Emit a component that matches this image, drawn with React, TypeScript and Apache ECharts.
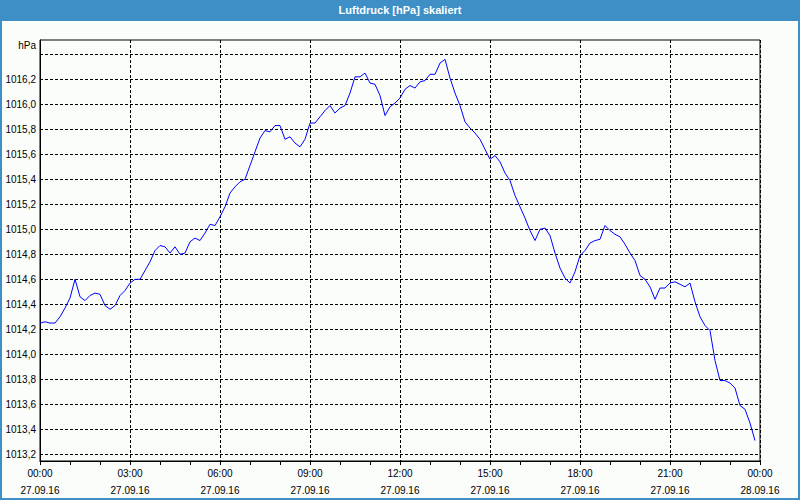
import React, { useEffect, useRef } from "react";
import * as echarts from "echarts";

// Series start: 27.09.2016 00:00, one sample every 10 minutes
const START_DATE = { year: 2016, month: 9, day: 27 };
const SAMPLE_STEP_MIN = 10;

const pressure: number[] = [
  1014.25, 1014.26, 1014.25, 1014.25, 1014.3, 1014.37, 1014.45, 1014.6, 1014.46, 1014.43,
  1014.47, 1014.49, 1014.48, 1014.39, 1014.36, 1014.39, 1014.47, 1014.51, 1014.57, 1014.6,
  1014.6, 1014.67, 1014.74, 1014.83, 1014.87, 1014.86, 1014.81, 1014.86, 1014.8, 1014.81,
  1014.9, 1014.93, 1014.91, 1014.97, 1015.04, 1015.03, 1015.1, 1015.18, 1015.29, 1015.34,
  1015.38, 1015.4, 1015.51, 1015.62, 1015.73, 1015.79, 1015.78, 1015.83, 1015.83, 1015.72,
  1015.74, 1015.69, 1015.66, 1015.72, 1015.85, 1015.85, 1015.9, 1015.95, 1015.99, 1015.93,
  1015.97, 1015.99, 1016.09, 1016.22, 1016.22, 1016.25, 1016.17, 1016.16, 1016.07, 1015.91,
  1015.98, 1016.01, 1016.05, 1016.12, 1016.15, 1016.13, 1016.18, 1016.19, 1016.24, 1016.24,
  1016.33, 1016.36, 1016.21, 1016.09, 1015.99, 1015.86, 1015.81, 1015.77, 1015.72, 1015.64,
  1015.56, 1015.59, 1015.54, 1015.45, 1015.39, 1015.27, 1015.18, 1015.09, 1014.99, 1014.91,
  1015.0, 1015.01, 1014.95, 1014.81, 1014.69, 1014.61, 1014.57, 1014.66, 1014.79, 1014.83,
  1014.89, 1014.91, 1014.92, 1015.03, 1014.99, 1014.96, 1014.94, 1014.88, 1014.81, 1014.75,
  1014.63, 1014.6, 1014.54, 1014.44, 1014.53, 1014.53, 1014.57, 1014.58, 1014.56, 1014.54,
  1014.57, 1014.42, 1014.3, 1014.23, 1014.19, 1013.95, 1013.79, 1013.79, 1013.77, 1013.73,
  1013.59, 1013.56, 1013.45, 1013.31,
];

const X_MIN = 0; // minutes since start
const X_MAX = 1440;
const X_INTERVAL = 180;
const Y_MIN = 1013.2;
const Y_MAX = 1016.4;
const Y_INTERVAL = 0.2;
const Y_HIDDEN_LABELS = [1016.4];

const TITLE = "Luftdruck [hPa] skaliert";
const UNIT = "hPa";

const BLUE = "#3D8FC6";
const BG = "#FAFDFA";
const FONT = "Liberation Sans";

function pad(n: number) {
  return n < 10 ? "0" + n : "" + n;
}

function formatX(m: number) {
  const d = new Date(START_DATE.year, START_DATE.month - 1, START_DATE.day, 0, m);
  return (
    pad(d.getHours()) + ":" + pad(d.getMinutes()) + "\n" +
    pad(d.getDate()) + "." + pad(d.getMonth() + 1) + "." + pad(d.getFullYear() % 100)
  );
}

export default function App() {
  const ref = useRef<HTMLDivElement>(null);

  useEffect(() => {
    if (!ref.current) return;
    const chart = echarts.init(ref.current, null, { renderer: "svg" });
    const data = pressure.map((v, i) => [i * SAMPLE_STEP_MIN, v]);
    const dashed = { type: [3, 2] as any, color: "#000", width: 1 };

    chart.setOption({
      animation: false,
      backgroundColor: BG,
      textStyle: { fontFamily: FONT },
      title: {
        text: TITLE,
        left: "center",
        top: 0,
        padding: [4, 0, 4, 10],
        textStyle: { color: "#fff", fontSize: 11, fontWeight: "bold", fontFamily: FONT },
      },
      graphic: [
        { type: "rect", left: 0, top: 0, shape: { x: 0, y: 0, width: 800, height: 21 }, style: { fill: BLUE }, z: 0 },
        { type: "rect", shape: { x: 1, y: 1, width: 798, height: 498 }, style: { fill: "none", stroke: BLUE, lineWidth: 2 }, z: 0 },
      ],
      grid: [
        { left: 40, right: 40, top: 40, bottom: 39, show: true, borderColor: "#000", borderWidth: 1, backgroundColor: "transparent" },
        { left: 40, right: 40, top: 54.3, bottom: 45.7 },
      ],
      xAxis: [
        {
          gridIndex: 0,
          type: "value",
          min: X_MIN,
          max: X_MAX,
          interval: X_INTERVAL,
          axisLine: { show: true, lineStyle: { color: "#000", width: 1 } },
          axisTick: { show: true, length: 4, lineStyle: { color: "#000" } },
          minorTick: { show: true, splitNumber: 3, length: 4, lineStyle: { color: "#000" } },
          splitLine: { show: true, lineStyle: dashed },
          axisLabel: {
            formatter: (v: number) => formatX(v),
            color: "#000",
            fontSize: 10,
            lineHeight: 17,
            margin: 4,
            fontFamily: FONT,
          },
        },
        { gridIndex: 1, type: "value", min: X_MIN, max: X_MAX, show: false },
      ],
      yAxis: [
        {
          gridIndex: 0,
          type: "value",
          min: 0,
          max: 1,
          name: UNIT,
          nameLocation: "end",
          nameGap: -5,
          nameTextStyle: { color: "#000", fontSize: 10, align: "right", verticalAlign: "middle", padding: [0, 4, 0, 0], fontFamily: FONT },
          axisLine: { show: true, lineStyle: { color: "#000" } },
          axisTick: { show: false },
          axisLabel: { show: false },
          splitLine: { show: false },
        },
        {
          gridIndex: 1,
          type: "value",
          min: Y_MIN,
          max: Y_MAX,
          interval: Y_INTERVAL,
          axisLine: { show: false },
          axisTick: { show: false },
          splitLine: { show: true, lineStyle: dashed },
          axisLabel: {
            color: "#000",
            fontSize: 10,
            margin: 4,
            fontFamily: FONT,
            formatter: (v: number) =>
              Y_HIDDEN_LABELS.some((h) => Math.abs(h - v) < 1e-6) ? "" : v.toFixed(1).replace(".", ","),
          },
        },
      ],
      series: [
        {
          type: "line",
          xAxisIndex: 1,
          yAxisIndex: 1,
          data,
          symbol: "none",
          lineStyle: { color: "#0000FF", width: 1 },
        },
      ],
    });
    return () => chart.dispose();
  }, []);

  return (
    <div
      ref={ref}
      style={{ position: "fixed", left: 0, top: 0, width: 800, height: 500 }}
    />
  );
}
